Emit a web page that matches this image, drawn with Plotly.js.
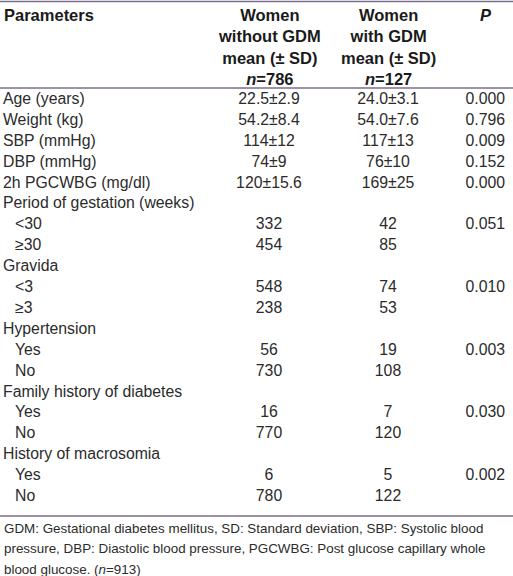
<!DOCTYPE html>
<html><head><meta charset="utf-8">
<script src="https://cdn.plot.ly/plotly-3.0.1.min.js"></script>
<style>html,body{margin:0;padding:0;background:#fff}</style>
</head><body><div id="chart" style="width:513px;height:576px"></div>
<script>
const parameters = ["Age (years)","Weight (kg)","SBP (mmHg)","DBP (mmHg)","2h PGCWBG (mg/dl)",
  "Period of gestation (weeks)","  <30","  ≥30","Gravida","  <3","  ≥3","Hypertension","  Yes","  No",
  "Family history of diabetes","  Yes","  No","History of macrosomia","  Yes","  No"];
const withoutGDM = ["22.5±2.9","54.2±8.4","114±12","74±9","120±15.6","","332","454","","548","238","","56","730","","16","770","","6","780"];
const withGDM = ["24.0±3.1","54.0±7.6","117±13","76±10","169±25","","42","85","","74","53","","19","108","","7","120","","5","122"];
const pValues = ["0.000","0.796","0.009","0.152","0.000","","0.051","","","0.010","","","0.003","","","0.030","","","0.002",""];
const headers = ["<b>Parameters</b>","<b>Women<br>without GDM<br>mean (± SD)<br><i>n</i>=786</b>","<b>Women<br>with GDM<br>mean (± SD)<br><i>n</i>=127</b>","<b><i>P</i></b>"];
const footnoteLines = ["GDM: Gestational diabetes mellitus, SD: Standard deviation, SBP: Systolic blood",
  "pressure, DBP: Diastolic blood pressure, PGCWBG: Post glucose capillary whole",
  "blood glucose. (<i>n</i>=913)"];

const rows = parameters.map((_, i) => i);
const bodyFont = {family: "Liberation Sans, Arial, sans-serif", size: 15.8, color: "#2b2b2b"};
const isSub = parameters.map(p => p.startsWith("  "));
const colX = {param: 3, sub: 15, c1: 269, c2: 388, p: 505};

const traces = [
  {x: rows.map(i => isSub[i] ? colX.sub : colX.param), y: rows, text: parameters.map(p => p.trim()), textposition: "middle right"},
  {x: rows.map(() => colX.c1), y: rows, text: withoutGDM, textposition: "middle center"},
  {x: rows.map(() => colX.c2), y: rows, text: withGDM, textposition: "middle center"},
  {x: rows.map(() => colX.p), y: rows, text: pValues, textposition: "middle left"}
].map(t => Object.assign({type: "scatter", mode: "text", textfont: bodyFont, hoverinfo: "skip", showlegend: false, cliponaxis: false}, t));

const rowH = 20.9, firstRowPx = 100, H = 576;
const lineColor = "#7b6d8d";
const hdrFont = {family: "Liberation Sans, Arial, sans-serif", size: 16.5, color: "#1a1a1a"};
const footFont = {family: "Liberation Sans, Arial, sans-serif", size: 13.4, color: "#2b2b2b"};
const layout = {
  width: 513, height: 576, margin: {l: 0, r: 0, t: 0, b: 0},
  paper_bgcolor: "#fff", plot_bgcolor: "#fff",
  xaxis: {range: [0, 513], visible: false, fixedrange: true},
  yaxis: {range: [(H - firstRowPx) / rowH, -firstRowPx / rowH], visible: false, fixedrange: true},
  shapes: [1.5, 88, 516].map(py => ({type: "line", xref: "paper", yref: "paper", x0: 0, x1: 1,
      y0: 1 - py/H, y1: 1 - py/H, line: {color: lineColor, width: 1.5}})),
  annotations: [
    {text: headers[0], x: 3/513, xanchor: "left", align: "left"},
    {text: headers[1], x: 269/513, xanchor: "center", align: "center"},
    {text: headers[2], x: 388/513, xanchor: "center", align: "center"},
    {text: headers[3], x: 486/513, xanchor: "center", align: "center"},
  ].map(a => Object.assign({xref: "paper", yref: "paper", y: 1 - 5/H, yanchor: "top", showarrow: false, borderpad: 0, font: hdrFont}, a))
   .concat(footnoteLines.map((t, i) => ({text: t, xref: "paper", yref: "paper", x: 3/513, xanchor: "left",
      y: 1 - (528 + i * 20.6)/H, yanchor: "middle", align: "left", showarrow: false, borderpad: 0, font: footFont})))
};
Plotly.newPlot("chart", traces, layout, {displayModeBar: false, staticPlot: true});
</script></body></html>
